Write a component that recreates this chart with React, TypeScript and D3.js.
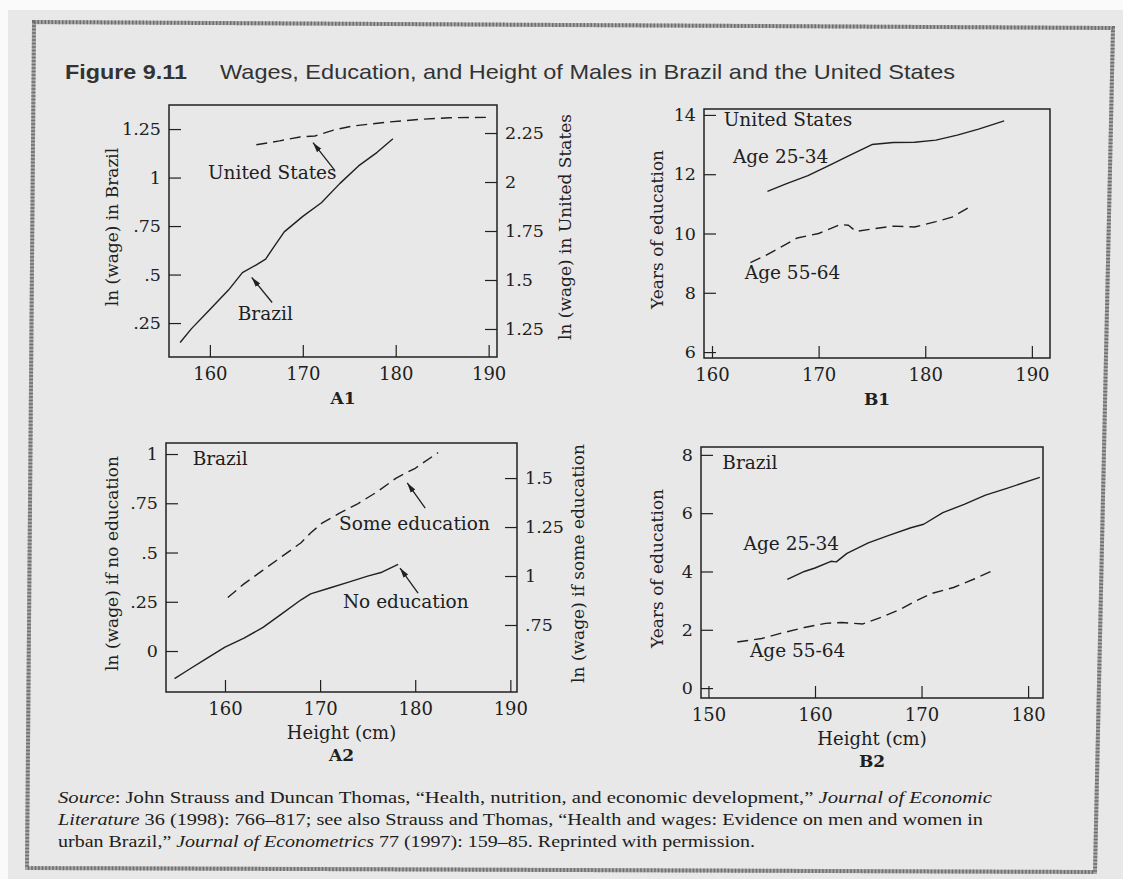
import React, { useEffect, useRef } from "react";
import * as d3 from "d3";

const W = 1123;
const H = 879;

// A1: ln(wage) by height, Brazil (left axis) and United States (right axis)
const a1BrazilHeight = [156.8, 158, 160, 162, 163.5, 165, 166, 167, 168, 170, 172, 174, 176, 178, 179.7];
const a1BrazilWage = [0.15, 0.22, 0.32, 0.42, 0.51, 0.55, 0.58, 0.65, 0.72, 0.8, 0.87, 0.97, 1.06, 1.13, 1.2];
const a1UsHeight = [165, 167.5, 169.7, 171.3, 173.3, 175.4, 179, 182.6, 185.8, 189.8];
const a1UsWage = [2.19, 2.21, 2.23, 2.235, 2.265, 2.286, 2.305, 2.32, 2.328, 2.33];

// B1: years of education by height, United States
const b1YoungHeight = [165.2, 167, 169, 171, 173, 175, 177, 179, 181, 183, 185, 187.4];
const b1YoungEdu = [11.42, 11.68, 11.95, 12.3, 12.65, 13.0, 13.07, 13.08, 13.15, 13.32, 13.52, 13.8];
const b1OldHeight = [163.6, 165, 166.5, 168, 170, 172, 172.8, 173.5, 175, 177, 179, 181, 182.5, 184.1];
const b1OldEdu = [9.02, 9.25, 9.55, 9.85, 10.0, 10.3, 10.28, 10.07, 10.15, 10.25, 10.22, 10.4, 10.55, 10.88];

// A2: ln(wage) by height in Brazil, no education (left) and some education (right)
const a2NoEduHeight = [154.7, 156, 158, 160, 162, 164, 166, 168, 169, 171, 173, 175, 176.5, 178.2];
const a2NoEduWage = [-0.14, -0.1, -0.04, 0.02, 0.065, 0.12, 0.19, 0.26, 0.29, 0.32, 0.35, 0.38, 0.4, 0.44];
const a2SomeEduHeight = [160.3, 162, 164, 166, 168, 169, 170.2, 172, 174, 176, 178, 180, 182.4];
const a2SomeEduWage = [0.89, 0.96, 1.03, 1.1, 1.17, 1.22, 1.27, 1.32, 1.37, 1.43, 1.5, 1.55, 1.63];

// B2: years of education by height, Brazil
const b2YoungHeight = [157.4, 159, 160, 161.5, 162, 163, 165, 167, 169, 170.2, 172, 174, 176, 178, 181.1];
const b2YoungEdu = [3.73, 4.0, 4.12, 4.35, 4.33, 4.62, 4.98, 5.25, 5.5, 5.62, 6.02, 6.3, 6.62, 6.85, 7.23];
const b2OldHeight = [152.7, 155, 157, 159, 161, 162.5, 164.5, 166, 168, 169.5, 171, 173, 175, 176.7];
const b2OldEdu = [1.58, 1.7, 1.9, 2.08, 2.22, 2.25, 2.2, 2.4, 2.7, 3.0, 3.25, 3.45, 3.75, 4.03];

// tick values and labels
const heightTicks = [160, 170, 180, 190];
const b2HeightTicks = [150, 160, 170, 180];
const a1LeftTicks = [0.25, 0.5, 0.75, 1, 1.25];
const a1LeftLabels = [".25", ".5", ".75", "1", "1.25"];
const a1RightTicks = [1.25, 1.5, 1.75, 2, 2.25];
const a1RightLabels = ["1.25", "1.5", "1.75", "2", "2.25"];
const b1Ticks = [6, 8, 10, 12, 14];
const a2LeftTicks = [0, 0.25, 0.5, 0.75, 1];
const a2LeftLabels = ["0", ".25", ".5", ".75", "1"];
const a2RightTicks = [0.75, 1, 1.25, 1.5];
const a2RightLabels = [".75", "1", "1.25", "1.5"];
const b2Ticks = [0, 2, 4, 6, 8];

const INK = "#202020";
const SERIF = "'DejaVu Serif', serif";

interface Series { x: number[]; y: number[]; right?: boolean; dashed?: boolean }
interface Note { text: string; x: number; y: number }
interface Arrow { from: [number, number]; to: [number, number] }
interface Panel {
  box: [number, number, number, number];
  xDomain: [number, number];
  yDomain: [number, number];
  y2Domain?: [number, number];
  xTicks: number[];
  yTicks: number[];
  yLabels: string[];
  y2Ticks?: number[];
  y2Labels?: string[];
  yTitle: string;
  yTitleDx: number;
  y2Title?: string;
  y2TitleDx?: number;
  xTitle?: string;
  label: string;
  labelDx?: number;
  series: Series[];
  notes: Note[];
  arrows: Arrow[];
}

const panels: Panel[] = [
  {
    box: [169, 105, 497, 357],
    xDomain: [155.6, 190.9],
    yDomain: [0.075, 1.374],
    y2Domain: [1.107, 2.393],
    xTicks: heightTicks,
    yTicks: a1LeftTicks,
    yLabels: a1LeftLabels,
    y2Ticks: a1RightTicks,
    y2Labels: a1RightLabels,
    yTitle: "ln (wage) in Brazil",
    yTitleDx: -57,
    y2Title: "ln (wage) in United States",
    y2TitleDx: 68,
    label: "A1",
    labelDx: 10,
    series: [
      { x: a1BrazilHeight, y: a1BrazilWage },
      { x: a1UsHeight, y: a1UsWage, right: true, dashed: true },
    ],
    notes: [
      { text: "United States", x: 159.8, y: 0.99 },
      { text: "Brazil", x: 163.0, y: 0.268 },
    ],
    arrows: [
      { from: [173.4, 1.04], to: [171.1, 1.18] },
      { from: [166.7, 0.356], to: [164.5, 0.485] },
    ],
  },
  {
    box: [704, 109, 1050, 358],
    xDomain: [159.25, 191.7],
    yDomain: [5.8, 14.2],
    xTicks: heightTicks,
    yTicks: b1Ticks,
    yLabels: b1Ticks.map(String),
    yTitle: "Years of education",
    yTitleDx: -47,
    label: "B1",
    series: [
      { x: b1YoungHeight, y: b1YoungEdu },
      { x: b1OldHeight, y: b1OldEdu, dashed: true },
    ],
    notes: [
      { text: "United States", x: 161.1, y: 13.63 },
      { text: "Age 25-34", x: 161.96, y: 12.37 },
      { text: "Age 55-64", x: 163.08, y: 8.47 },
    ],
    arrows: [],
  },
  {
    box: [166, 443, 517, 692],
    xDomain: [153.8, 190.7],
    yDomain: [-0.208, 1.056],
    y2Domain: [0.408, 1.679],
    xTicks: heightTicks,
    yTicks: a2LeftTicks,
    yLabels: a2LeftLabels,
    y2Ticks: a2RightTicks,
    y2Labels: a2RightLabels,
    yTitle: "ln (wage) if no education",
    yTitleDx: -54,
    y2Title: "ln (wage) if some education",
    y2TitleDx: 61,
    xTitle: "Height (cm)",
    label: "A2",
    series: [
      { x: a2NoEduHeight, y: a2NoEduWage },
      { x: a2SomeEduHeight, y: a2SomeEduWage, right: true, dashed: true },
    ],
    notes: [
      { text: "Brazil", x: 156.6, y: 0.944 },
      { text: "Some education", x: 172.0, y: 0.614 },
      { text: "No education", x: 172.4, y: 0.218 },
    ],
    arrows: [
      { from: [181.05, 0.726], to: [179.16, 0.853] },
      { from: [180.3, 0.294], to: [178.4, 0.421] },
    ],
  },
  {
    box: [701, 447, 1043, 698],
    xDomain: [149.3, 181.4],
    yDomain: [-0.34, 8.27],
    xTicks: b2HeightTicks,
    yTicks: b2Ticks,
    yLabels: b2Ticks.map(String),
    yTitle: "Years of education",
    yTitleDx: -44,
    xTitle: "Height (cm)",
    label: "B2",
    series: [
      { x: b2YoungHeight, y: b2YoungEdu },
      { x: b2OldHeight, y: b2OldEdu, dashed: true },
    ],
    notes: [
      { text: "Brazil", x: 151.3, y: 7.5 },
      { text: "Age 25-34", x: 153.3, y: 4.73 },
      { text: "Age 55-64", x: 153.9, y: 1.06 },
    ],
    arrows: [],
  },
];

const sourceLines: { t: string; i?: boolean }[][] = [
  [
    { t: "Source", i: true },
    { t: ": John Strauss and Duncan Thomas, \u201cHealth, nutrition, and economic development,\u201d " },
    { t: "Journal of Economic", i: true },
  ],
  [
    { t: "Literature", i: true },
    { t: " 36 (1998): 766\u2013817; see also Strauss and Thomas, \u201cHealth and wages: Evidence on men and women in" },
  ],
  [
    { t: "urban Brazil,\u201d " },
    { t: "Journal of Econometrics", i: true },
    { t: " 77 (1997): 159\u201385. Reprinted with permission." },
  ],
];
const sourceWidths = [934, 925, 697];

function styleAxis(g: d3.Selection<SVGGElement, unknown, null, undefined>) {
  g.select(".domain").remove();
  g.attr("font-family", SERIF).attr("font-size", 17.5);
  g.selectAll("line").attr("stroke", INK).attr("stroke-width", 1.2);
  g.selectAll("text").attr("fill", INK);
}

const App: React.FC = () => {
  const svgRef = useRef<SVGSVGElement>(null);

  useEffect(() => {
    if (!svgRef.current) return;
    const svg = d3.select(svgRef.current);
    svg.selectAll("*").remove();

    // scanned page
    svg.append("rect").attr("width", W).attr("height", H).attr("fill", "#e8e8e8");
    svg.append("rect").attr("width", W).attr("height", 10).attr("fill", "#fafafa");
    svg.append("rect").attr("width", 8).attr("height", H).attr("fill", "#fafafa");

    const frame = "M34,22 L1113,28 L1095,872 L27,868 Z";
    svg.append("path").attr("d", frame).attr("fill", "none").attr("stroke", "#a6a6a6").attr("stroke-width", 4);
    svg.append("path").attr("d", frame).attr("fill", "none").attr("stroke", "#6f6f6f")
      .attr("stroke-width", 4).attr("stroke-dasharray", "1.5,2");

    svg.append("defs").append("marker")
      .attr("id", "arrowhead")
      .attr("viewBox", "0 0 10 10")
      .attr("refX", 10).attr("refY", 5)
      .attr("markerWidth", 10).attr("markerHeight", 10)
      .attr("markerUnits", "userSpaceOnUse")
      .attr("orient", "auto")
      .append("path").attr("d", "M0,2.2 L10,5 L0,7.8 Z").attr("fill", INK);

    // title
    svg.append("text")
      .attr("x", 65).attr("y", 79)
      .attr("font-family", "'Liberation Sans', Arial, sans-serif")
      .attr("font-size", 21).attr("font-weight", "bold").attr("fill", "#333")
      .attr("textLength", 122).attr("lengthAdjust", "spacingAndGlyphs")
      .text("Figure 9.11");
    svg.append("text")
      .attr("x", 220).attr("y", 79)
      .attr("font-family", "'Liberation Sans', Arial, sans-serif")
      .attr("font-size", 21).attr("fill", "#333")
      .attr("textLength", 735).attr("lengthAdjust", "spacingAndGlyphs")
      .text("Wages, Education, and Height of Males in Brazil and the United States");

    panels.forEach((p) => {
      const [x0, y0, x1, y1] = p.box;
      const g = svg.append("g");
      const x = d3.scaleLinear().domain(p.xDomain).range([x0, x1]);
      const y = d3.scaleLinear().domain(p.yDomain).range([y1, y0]);
      const y2 = p.y2Domain ? d3.scaleLinear().domain(p.y2Domain).range([y1, y0]) : null;

      g.append("rect")
        .attr("x", x0).attr("y", y0).attr("width", x1 - x0).attr("height", y1 - y0)
        .attr("fill", "none").attr("stroke", INK).attr("stroke-width", 1.5);

      const xa = g.append("g").attr("transform", `translate(0,${y1})`)
        .call(d3.axisBottom(x).tickValues(p.xTicks).tickFormat(d3.format("d")).tickSizeInner(-12).tickSizeOuter(0).tickPadding(10));
      styleAxis(xa);
      xa.attr("font-size", 18);

      const ya = g.append("g").attr("transform", `translate(${x0},0)`)
        .call(d3.axisLeft(y).tickValues(p.yTicks).tickFormat((_, i) => p.yLabels[i]).tickSizeInner(-12).tickSizeOuter(0).tickPadding(8));
      styleAxis(ya);

      if (y2 && p.y2Ticks && p.y2Labels) {
        const labels = p.y2Labels;
        const ra = g.append("g").attr("transform", `translate(${x1},0)`)
          .call(d3.axisRight(y2).tickValues(p.y2Ticks).tickFormat((_, i) => labels[i]).tickSizeInner(-12).tickSizeOuter(0).tickPadding(8));
        styleAxis(ra);
      }

      const midY = (y0 + y1) / 2 - 4;
      g.append("text")
        .attr("transform", `translate(${x0 + p.yTitleDx},${midY}) rotate(-90)`)
        .attr("text-anchor", "middle").attr("dominant-baseline", "central")
        .attr("font-family", SERIF).attr("font-size", 17).attr("fill", INK)
        .text(p.yTitle);
      if (p.y2Title && p.y2TitleDx) {
        g.append("text")
          .attr("transform", `translate(${x1 + p.y2TitleDx},${midY}) rotate(-90)`)
          .attr("text-anchor", "middle").attr("dominant-baseline", "central")
          .attr("font-family", SERIF).attr("font-size", 17).attr("fill", INK)
          .text(p.y2Title);
      }

      const cx = (x0 + x1) / 2;
      if (p.xTitle) {
        g.append("text")
          .attr("x", cx).attr("y", y1 + 47)
          .attr("text-anchor", "middle")
          .attr("font-family", SERIF).attr("font-size", 18).attr("fill", INK)
          .text(p.xTitle);
      }
      g.append("text")
        .attr("x", cx + (p.labelDx ?? 0)).attr("y", p.xTitle ? y1 + 69 : y1 + 47)
        .attr("text-anchor", "middle")
        .attr("font-family", SERIF).attr("font-size", 17).attr("font-weight", "bold").attr("fill", INK)
        .text(p.label);

      p.series.forEach((s) => {
        const ys = s.right && y2 ? y2 : y;
        const pts = s.x.map((v, i) => [v, s.y[i]] as [number, number]);
        const line = d3.line<[number, number]>().x((d) => x(d[0])).y((d) => ys(d[1]));
        g.append("path")
          .attr("d", line(pts))
          .attr("fill", "none")
          .attr("stroke", INK)
          .attr("stroke-width", 1.4)
          .attr("stroke-linejoin", "round")
          .attr("stroke-dasharray", s.dashed ? "11,6" : null);
      });

      p.notes.forEach((n) => {
        g.append("text")
          .attr("x", x(n.x)).attr("y", y(n.y))
          .attr("font-family", SERIF).attr("font-size", 18.5).attr("fill", INK)
          .text(n.text);
      });

      p.arrows.forEach((a) => {
        g.append("line")
          .attr("x1", x(a.from[0])).attr("y1", y(a.from[1]))
          .attr("x2", x(a.to[0])).attr("y2", y(a.to[1]))
          .attr("stroke", INK).attr("stroke-width", 1.3)
          .attr("marker-end", "url(#arrowhead)");
      });
    });

    // source note
    const baselines = [803, 825, 847];
    sourceLines.forEach((parts, li) => {
      const t = svg.append("text")
        .attr("x", 58).attr("y", baselines[li])
        .attr("font-family", "'Liberation Serif', 'Times New Roman', serif")
        .attr("font-size", 17.5).attr("fill", INK)
        .attr("textLength", sourceWidths[li]).attr("lengthAdjust", "spacingAndGlyphs");
      parts.forEach((part) => {
        t.append("tspan").attr("font-style", part.i ? "italic" : "normal").text(part.t);
      });
    });
  }, []);

  return (
    <div style={{ position: "absolute", left: 0, top: 0, width: W, height: H }}>
      <svg ref={svgRef} width={W} height={H} style={{ display: "block" }} />
    </div>
  );
};

export default App;
